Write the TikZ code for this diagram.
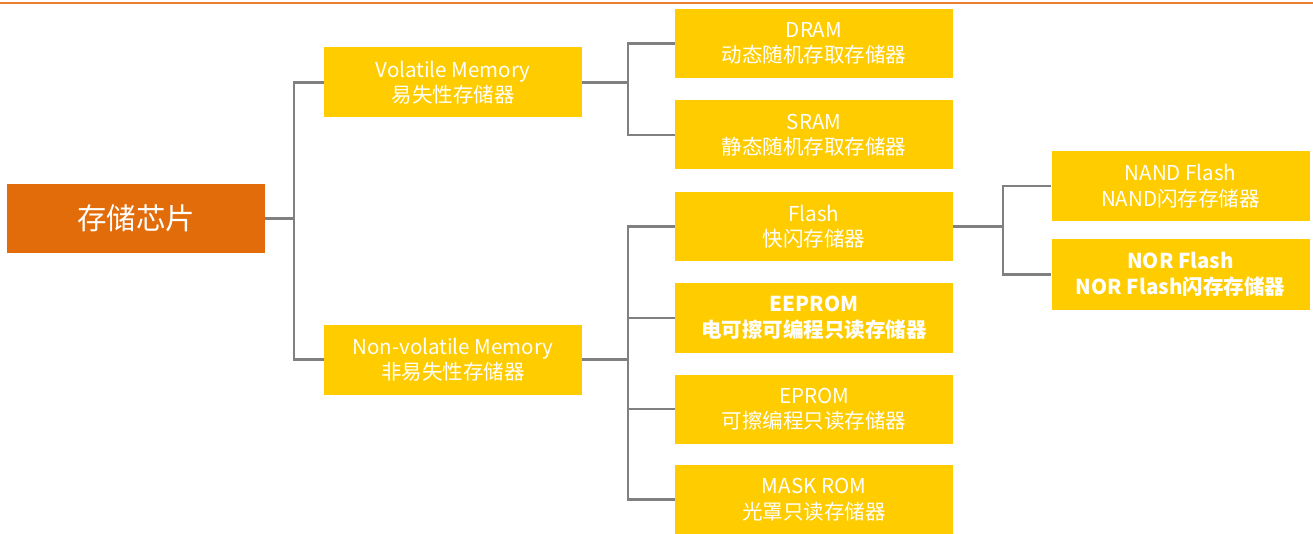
\documentclass[tikz,border=0pt]{standalone}
\usepackage{fontspec}
\setmainfont{Noto Sans CJK SC}
\definecolor{boxyellow}{HTML}{FFCC00}
\definecolor{rootorange}{HTML}{E36C0A}
\definecolor{topline}{HTML}{ED7D31}
\definecolor{linkgray}{HTML}{808080}
\begin{document}
\begin{tikzpicture}[x=1pt,y=-1pt,
  leaf/.style={fill=boxyellow, draw=none, text=white, align=center,
    minimum width=278pt, minimum height=69pt, inner sep=0pt,
    font=\fontsize{20.5}{25.5}\selectfont},
  mid/.style={leaf, minimum width=258pt, minimum height=70pt},
  boldtext/.style={font=\fontsize{20.5}{25.5}\selectfont\bfseries},
  rootbox/.style={fill=rootorange, draw=none, text=white, align=center,
    minimum width=258pt, minimum height=69pt, inner sep=0pt,
    font=\fontsize{29.5}{34}\selectfont},
  link/.style={draw=linkgray, line width=2.2pt}
]
\useasboundingbox (0,0) rectangle (1313,534);
\fill[topline] (0,1.8) rectangle (1313,4);

\node[rootbox] (root) at (136,218.5) {存储芯片};
\node[mid] (vol) at (453,82.5) {Volatile Memory\\易失性存储器};
\node[mid] (nonvol) at (453,359.5) {Non-volatile Memory\\非易失性存储器};

\node[leaf] (dram) at (814,43.5) {DRAM\\动态随机存取存储器};
\node[leaf] (sram) at (814,135) {SRAM\\静态随机存取存储器};
\node[leaf] (flash) at (814,226.5) {Flash\\快闪存储器};
\node[leaf, boldtext] (eeprom) at (814,318) {EEPROM\\电可擦可编程只读存储器};
\node[leaf] (eprom) at (814,409) {EPROM\\可擦编程只读存储器};
\node[leaf] (mask) at (814,499.5) {MASK ROM\\光罩只读存储器};

\node[mid] (nand) at (1180.5,186) {NAND Flash\\NAND闪存存储器};
\node[mid, boldtext] (nor) at (1180.5,274.5) {NOR Flash\\NOR Flash闪存存储器};

\begin{scope}[link]
  \draw (root.east) -- (294,218.5);
  \draw (vol.west) -| (294,218.5) |- (nonvol.west);
  \draw (vol.east) -- (628,82.5);
  \draw (dram.west) -| (628,82.5) |- (sram.west);
  \draw (nonvol.east) -- (628,359.5);
  \draw (flash.west) -| (628,359.5) |- (mask.west);
  \draw (eeprom.west) -- (628,318);
  \draw (eprom.west) -- (628,409);
  \draw (flash.east) -- (1003,226.5);
  \draw (nand.west) -| (1003,226.5) |- (nor.west);
\end{scope}
\end{tikzpicture}
\end{document}
